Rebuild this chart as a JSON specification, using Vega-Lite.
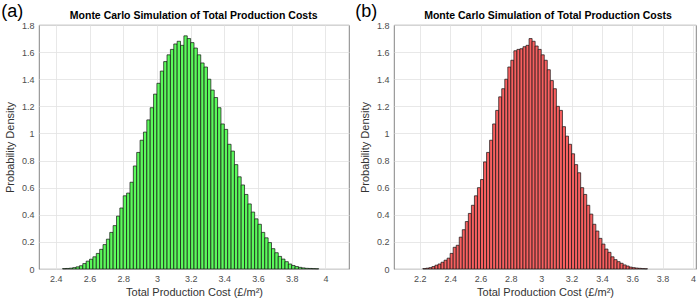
{
  "$schema": "https://vega.github.io/schema/vega-lite/v6.json",
  "padding": {"top": 2, "left": 0, "right": 0, "bottom": 0},
  "background": "white",
  "config": {
    "font": "Liberation Sans",
    "view": {"stroke": "#666666", "strokeWidth": 0.8},
    "axis": {"grid": true, "gridColor": "#E2E2E2", "gridWidth": 0.8, "ticks": false, "domain": false, "labelOverlap": false, "labelFlush": false, "labelFont": "Liberation Sans", "labelFontSize": 9, "labelColor": "#4D4D4D", "titleFont": "Liberation Sans", "titleFontSize": 11, "titleFontWeight": "normal", "titleColor": "#333333"}
  },
  "datasets": {
    "left": [
      {"x0": 2.44, "x1": 2.46, "d": 0.003}, {"x0": 2.46, "x1": 2.48, "d": 0.004}, {"x0": 2.48, "x1": 2.50, "d": 0.006}, {"x0": 2.50, "x1": 2.52, "d": 0.010},
      {"x0": 2.52, "x1": 2.54, "d": 0.016}, {"x0": 2.54, "x1": 2.56, "d": 0.024}, {"x0": 2.56, "x1": 2.58, "d": 0.040}, {"x0": 2.58, "x1": 2.60, "d": 0.058},
      {"x0": 2.60, "x1": 2.62, "d": 0.072}, {"x0": 2.62, "x1": 2.64, "d": 0.090}, {"x0": 2.64, "x1": 2.66, "d": 0.115}, {"x0": 2.66, "x1": 2.68, "d": 0.145},
      {"x0": 2.68, "x1": 2.70, "d": 0.180}, {"x0": 2.70, "x1": 2.72, "d": 0.220}, {"x0": 2.72, "x1": 2.74, "d": 0.270}, {"x0": 2.74, "x1": 2.76, "d": 0.320},
      {"x0": 2.76, "x1": 2.78, "d": 0.390}, {"x0": 2.78, "x1": 2.80, "d": 0.450}, {"x0": 2.80, "x1": 2.82, "d": 0.540}, {"x0": 2.82, "x1": 2.84, "d": 0.560},
      {"x0": 2.84, "x1": 2.86, "d": 0.640}, {"x0": 2.86, "x1": 2.88, "d": 0.760}, {"x0": 2.88, "x1": 2.90, "d": 0.860}, {"x0": 2.90, "x1": 2.92, "d": 0.950},
      {"x0": 2.92, "x1": 2.94, "d": 1.010}, {"x0": 2.94, "x1": 2.96, "d": 1.100}, {"x0": 2.96, "x1": 2.98, "d": 1.190}, {"x0": 2.98, "x1": 3.00, "d": 1.290},
      {"x0": 3.00, "x1": 3.02, "d": 1.370}, {"x0": 3.02, "x1": 3.04, "d": 1.460}, {"x0": 3.04, "x1": 3.06, "d": 1.530}, {"x0": 3.06, "x1": 3.08, "d": 1.580},
      {"x0": 3.08, "x1": 3.10, "d": 1.620}, {"x0": 3.10, "x1": 3.12, "d": 1.660}, {"x0": 3.12, "x1": 3.14, "d": 1.680}, {"x0": 3.14, "x1": 3.16, "d": 1.650},
      {"x0": 3.16, "x1": 3.18, "d": 1.720}, {"x0": 3.18, "x1": 3.20, "d": 1.700}, {"x0": 3.20, "x1": 3.22, "d": 1.670}, {"x0": 3.22, "x1": 3.24, "d": 1.630},
      {"x0": 3.24, "x1": 3.26, "d": 1.580}, {"x0": 3.26, "x1": 3.28, "d": 1.520}, {"x0": 3.28, "x1": 3.30, "d": 1.490}, {"x0": 3.30, "x1": 3.32, "d": 1.400},
      {"x0": 3.32, "x1": 3.34, "d": 1.320}, {"x0": 3.34, "x1": 3.36, "d": 1.265}, {"x0": 3.36, "x1": 3.38, "d": 1.190}, {"x0": 3.38, "x1": 3.40, "d": 1.070},
      {"x0": 3.40, "x1": 3.42, "d": 1.030}, {"x0": 3.42, "x1": 3.44, "d": 0.920}, {"x0": 3.44, "x1": 3.46, "d": 0.870}, {"x0": 3.46, "x1": 3.48, "d": 0.770},
      {"x0": 3.48, "x1": 3.50, "d": 0.680}, {"x0": 3.50, "x1": 3.52, "d": 0.620}, {"x0": 3.52, "x1": 3.54, "d": 0.550}, {"x0": 3.54, "x1": 3.56, "d": 0.480},
      {"x0": 3.56, "x1": 3.58, "d": 0.420}, {"x0": 3.58, "x1": 3.60, "d": 0.370}, {"x0": 3.60, "x1": 3.62, "d": 0.330}, {"x0": 3.62, "x1": 3.64, "d": 0.270},
      {"x0": 3.64, "x1": 3.66, "d": 0.230}, {"x0": 3.66, "x1": 3.68, "d": 0.195}, {"x0": 3.68, "x1": 3.70, "d": 0.150}, {"x0": 3.70, "x1": 3.72, "d": 0.120},
      {"x0": 3.72, "x1": 3.74, "d": 0.093}, {"x0": 3.74, "x1": 3.76, "d": 0.073}, {"x0": 3.76, "x1": 3.78, "d": 0.054}, {"x0": 3.78, "x1": 3.80, "d": 0.037},
      {"x0": 3.80, "x1": 3.82, "d": 0.026}, {"x0": 3.82, "x1": 3.84, "d": 0.018}, {"x0": 3.84, "x1": 3.86, "d": 0.012}, {"x0": 3.86, "x1": 3.88, "d": 0.008},
      {"x0": 3.88, "x1": 3.90, "d": 0.005}, {"x0": 3.90, "x1": 3.92, "d": 0.004}, {"x0": 3.92, "x1": 3.94, "d": 0.003}, {"x0": 3.94, "x1": 3.96, "d": 0.002}
    ],
    "right": [
      {"x0": 2.22, "x1": 2.24, "d": 0.003}, {"x0": 2.24, "x1": 2.26, "d": 0.006}, {"x0": 2.26, "x1": 2.28, "d": 0.010}, {"x0": 2.28, "x1": 2.30, "d": 0.018},
      {"x0": 2.30, "x1": 2.32, "d": 0.028}, {"x0": 2.32, "x1": 2.34, "d": 0.037}, {"x0": 2.34, "x1": 2.36, "d": 0.050}, {"x0": 2.36, "x1": 2.38, "d": 0.065},
      {"x0": 2.38, "x1": 2.40, "d": 0.080}, {"x0": 2.40, "x1": 2.42, "d": 0.115}, {"x0": 2.42, "x1": 2.44, "d": 0.160}, {"x0": 2.44, "x1": 2.46, "d": 0.175},
      {"x0": 2.46, "x1": 2.48, "d": 0.235}, {"x0": 2.48, "x1": 2.50, "d": 0.290}, {"x0": 2.50, "x1": 2.52, "d": 0.350}, {"x0": 2.52, "x1": 2.54, "d": 0.410},
      {"x0": 2.54, "x1": 2.56, "d": 0.470}, {"x0": 2.56, "x1": 2.58, "d": 0.540}, {"x0": 2.58, "x1": 2.60, "d": 0.600}, {"x0": 2.60, "x1": 2.62, "d": 0.660},
      {"x0": 2.62, "x1": 2.64, "d": 0.790}, {"x0": 2.64, "x1": 2.66, "d": 0.860}, {"x0": 2.66, "x1": 2.68, "d": 0.950}, {"x0": 2.68, "x1": 2.70, "d": 1.070},
      {"x0": 2.70, "x1": 2.72, "d": 1.170}, {"x0": 2.72, "x1": 2.74, "d": 1.270}, {"x0": 2.74, "x1": 2.76, "d": 1.330}, {"x0": 2.76, "x1": 2.78, "d": 1.400},
      {"x0": 2.78, "x1": 2.80, "d": 1.490}, {"x0": 2.80, "x1": 2.82, "d": 1.540}, {"x0": 2.82, "x1": 2.84, "d": 1.610}, {"x0": 2.84, "x1": 2.86, "d": 1.620},
      {"x0": 2.86, "x1": 2.88, "d": 1.625}, {"x0": 2.88, "x1": 2.90, "d": 1.640}, {"x0": 2.90, "x1": 2.92, "d": 1.650}, {"x0": 2.92, "x1": 2.94, "d": 1.700},
      {"x0": 2.94, "x1": 2.96, "d": 1.680}, {"x0": 2.96, "x1": 2.98, "d": 1.645}, {"x0": 2.98, "x1": 3.00, "d": 1.620}, {"x0": 3.00, "x1": 3.02, "d": 1.580},
      {"x0": 3.02, "x1": 3.04, "d": 1.540}, {"x0": 3.04, "x1": 3.06, "d": 1.470}, {"x0": 3.06, "x1": 3.08, "d": 1.390}, {"x0": 3.08, "x1": 3.10, "d": 1.330},
      {"x0": 3.10, "x1": 3.12, "d": 1.200}, {"x0": 3.12, "x1": 3.14, "d": 1.170}, {"x0": 3.14, "x1": 3.16, "d": 1.050}, {"x0": 3.16, "x1": 3.18, "d": 0.980},
      {"x0": 3.18, "x1": 3.20, "d": 0.920}, {"x0": 3.20, "x1": 3.22, "d": 0.850}, {"x0": 3.22, "x1": 3.24, "d": 0.770}, {"x0": 3.24, "x1": 3.26, "d": 0.710},
      {"x0": 3.26, "x1": 3.28, "d": 0.600}, {"x0": 3.28, "x1": 3.30, "d": 0.550}, {"x0": 3.30, "x1": 3.32, "d": 0.470}, {"x0": 3.32, "x1": 3.34, "d": 0.405},
      {"x0": 3.34, "x1": 3.36, "d": 0.330}, {"x0": 3.36, "x1": 3.38, "d": 0.280}, {"x0": 3.38, "x1": 3.40, "d": 0.226}, {"x0": 3.40, "x1": 3.42, "d": 0.184},
      {"x0": 3.42, "x1": 3.44, "d": 0.147}, {"x0": 3.44, "x1": 3.46, "d": 0.123}, {"x0": 3.46, "x1": 3.48, "d": 0.090}, {"x0": 3.48, "x1": 3.50, "d": 0.069},
      {"x0": 3.50, "x1": 3.52, "d": 0.054}, {"x0": 3.52, "x1": 3.54, "d": 0.042}, {"x0": 3.54, "x1": 3.56, "d": 0.030}, {"x0": 3.56, "x1": 3.58, "d": 0.022},
      {"x0": 3.58, "x1": 3.60, "d": 0.014}, {"x0": 3.60, "x1": 3.62, "d": 0.010}, {"x0": 3.62, "x1": 3.64, "d": 0.007}, {"x0": 3.64, "x1": 3.66, "d": 0.005},
      {"x0": 3.66, "x1": 3.68, "d": 0.003}, {"x0": 3.68, "x1": 3.70, "d": 0.002}
    ]
  },
  "spacing": 4,
  "hconcat": [
    {
      "width": 310,
      "height": 244,
      "encoding": {
        "x": {"type": "quantitative", "scale": {"domain": [2.3, 4.14], "nice": false, "zero": false},
              "axis": {"values": [2.4, 2.6, 2.8, 3, 3.2, 3.4, 3.6, 3.8, 4], "format": "~g", "labelOverlap": false, "title": "Total Production Cost (£/m²)", "labelPadding": 5, "titlePadding": 3}},
        "y": {"type": "quantitative", "scale": {"domain": [0, 1.8], "nice": false},
              "axis": {"values": [0, 0.2, 0.4, 0.6, 0.8, 1, 1.2, 1.4, 1.6, 1.8], "format": "~g", "labelOverlap": false, "title": "Probability Density", "labelPadding": 5, "titlePadding": 6}}
      },
      "layer": [
        {
          "data": {"name": "left"},
          "mark": {"type": "bar", "fill": "#5CFA5C", "stroke": "#111111", "strokeWidth": 0.7},
          "encoding": {
            "x": {"field": "x0"},
            "x2": {"field": "x1"},
            "y": {"field": "d"},
            "y2": {"datum": 0}
          }
        },
        {
          "data": {"values": [{"t": "(a)", "h": "Monte Carlo Simulation of Total Production Costs"}]},
          "layer": [
            {
              "mark": {"type": "text", "fontSize": 18, "align": "left", "baseline": "middle", "font": "Liberation Sans", "color": "#000000"},
              "encoding": {"x": {"datum": 2.076}, "y": {"datum": 1.893}, "text": {"field": "t"}}
            },
            {
              "mark": {"type": "text", "fontSize": 10.5, "fontWeight": "bold", "align": "center", "baseline": "alphabetic", "font": "Liberation Sans", "color": "#000000"},
              "encoding": {"x": {"datum": 3.218}, "y": {"datum": 1.842}, "text": {"field": "h"}}
            }
          ]
        }
      ]
    },
    {
      "width": 302,
      "height": 244,
      "encoding": {
        "x": {"type": "quantitative", "scale": {"domain": [2.03, 4.02], "nice": false, "zero": false},
              "axis": {"values": [2.2, 2.4, 2.6, 2.8, 3, 3.2, 3.4, 3.6, 3.8, 4], "format": "~g", "labelOverlap": false, "title": "Total Production Cost (£/m²)", "labelPadding": 5, "titlePadding": 3}},
        "y": {"type": "quantitative", "scale": {"domain": [0, 1.8], "nice": false},
              "axis": {"values": [0, 0.2, 0.4, 0.6, 0.8, 1, 1.2, 1.4, 1.6, 1.8], "format": "~g", "labelOverlap": false, "title": "Probability Density", "labelPadding": 5, "titlePadding": 6}}
      },
      "layer": [
        {
          "data": {"name": "right"},
          "mark": {"type": "bar", "fill": "#F86060", "stroke": "#111111", "strokeWidth": 0.7},
          "encoding": {
            "x": {"field": "x0"},
            "x2": {"field": "x1"},
            "y": {"field": "d"},
            "y2": {"datum": 0}
          }
        },
        {
          "data": {"values": [{"t": "(b)", "h": "Monte Carlo Simulation of Total Production Costs"}]},
          "layer": [
            {
              "mark": {"type": "text", "fontSize": 18, "align": "left", "baseline": "middle", "font": "Liberation Sans", "color": "#000000"},
              "encoding": {"x": {"datum": 1.774}, "y": {"datum": 1.893}, "text": {"field": "t"}}
            },
            {
              "mark": {"type": "text", "fontSize": 10.5, "fontWeight": "bold", "align": "center", "baseline": "alphabetic", "font": "Liberation Sans", "color": "#000000"},
              "encoding": {"x": {"datum": 3.045}, "y": {"datum": 1.842}, "text": {"field": "h"}}
            }
          ]
        }
      ]
    }
  ]
}
